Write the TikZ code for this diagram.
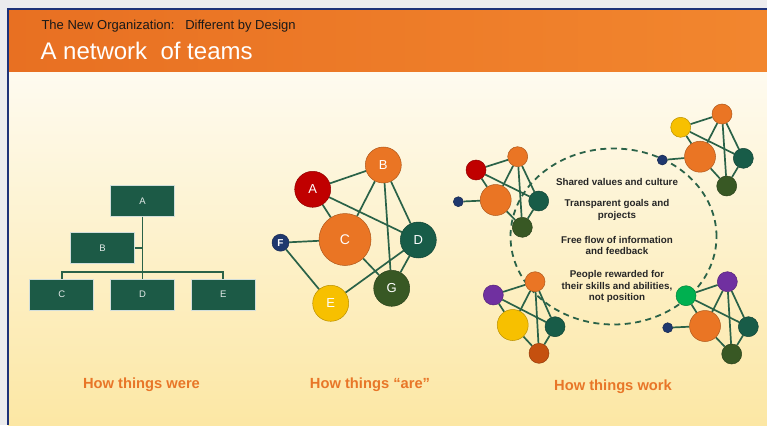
\documentclass[tikz,border=0pt]{standalone}
\usepackage{fontspec}
\setmainfont{Liberation Sans}
\usetikzlibrary{positioning}

\definecolor{framegray}{RGB}{236,236,238}
\definecolor{framenavy}{RGB}{30,50,120}
\definecolor{hdrleft}{RGB}{232,112,34}
\definecolor{hdrright}{RGB}{242,134,46}
\definecolor{bodytop}{RGB}{254,251,240}
\definecolor{bodybot}{RGB}{252,231,164}
\definecolor{boxgreen}{RGB}{28,90,70}
\definecolor{linkgreen}{RGB}{42,98,72}
\definecolor{teamorange}{RGB}{234,117,36}
\definecolor{teamred}{RGB}{192,0,0}
\definecolor{teamteal}{RGB}{24,92,72}
\definecolor{teamgreen}{RGB}{56,88,36}
\definecolor{teamyellow}{RGB}{247,192,0}
\definecolor{teamnavy}{RGB}{31,56,110}
\definecolor{teampurple}{RGB}{112,48,160}
\definecolor{teamlime}{RGB}{0,176,80}
\definecolor{teamrust}{RGB}{197,80,15}
\definecolor{captionorange}{RGB}{232,118,40}

\pgfdeclarelayer{back}
\pgfdeclarelayer{links}
\pgfsetlayers{back,links,main}

\tikzset{%
  % Specifications for style of nodes:
        orgbox/.style = {rectangle, draw=white!80!boxgreen, line width=0.8pt,
                         fill=boxgreen, minimum width=64pt, minimum height=31pt,
                         text=white!88!boxgreen, font=\fontsize{9.5}{10}\selectfont},
          team/.style = {circle, inner sep=0pt, fill=#1, draw=#1!75!black,
                         line width=0.5pt, text=white},
       bigteam/.style = {minimum size=36pt, font=\fontsize{13}{14}\selectfont},
      hubteam/.style = {minimum size=52pt, font=\fontsize{14}{15}\selectfont},
      tinyteam/.style = {minimum size=17pt, font=\bfseries\fontsize{10}{11}\selectfont},
      unitteam/.style = {minimum size=20pt},
    centerteam/.style = {minimum size=31pt},
       dotteam/.style = {minimum size=10pt},
          link/.style = {draw=linkgreen, line width=1.7pt},
       orgline/.style = {draw=linkgreen, line width=1.7pt},
      ringline/.style = {draw=linkgreen, line width=1.8pt, dash pattern=on 6pt off 4.5pt},
     valuetext/.style = {align=center, text=black!85,
                         font=\bfseries\fontsize{9.8}{11.8}\selectfont},
       caption/.style = {anchor=base, text=captionorange,
                         font=\bfseries\fontsize{14.7}{16}\selectfont},
}

\begin{document}
\begin{tikzpicture}[x=1pt, y=-1pt]
  \useasboundingbox (0,0) rectangle (767,425);

  % slide frame, header and body
  \begin{pgfonlayer}{back}
    \fill[framegray] (0,0) rectangle (767,425);
    \shade[top color=bodytop, bottom color=bodybot] (8,72) rectangle (767,425);
    \shade[left color=hdrleft, right color=hdrright] (8,9) rectangle (767,72);
    \draw[framenavy, line width=1.4pt] (8,425) -- (8,9) -- (767,9);
  \end{pgfonlayer}

  \node (subtitle) [anchor=base west, text=black!90, font=\fontsize{13}{14}\selectfont]
        at (38,29.5) {The New Organization:\ \ \ Different by Design};
  \node (title) [anchor=base west, text=white, font=\fontsize{24}{26}\selectfont]
        at (37,60) {A network\ \ of teams};

  % How things were: the org chart
  \node (orgA) [orgbox] at (142.5,200.8) {A};
  \node (orgD) [orgbox, below=62pt of orgA] {D};
  \node (orgC) [orgbox, left=16pt of orgD] {C};
  \node (orgE) [orgbox, right=16pt of orgD] {E};
  \node (orgB) [orgbox] at (102.5,248) {B};
  \coordinate (orgbar) at (142.5,271.7);

  \draw[orgline] (orgA) -- (orgbar) -- (orgD);
  \draw[orgline] (orgC.north) |- (orgbar) -| (orgE.north);
  \draw[orgline] (orgB.east) -- (orgB.east -| orgA.south);

  % How things "are": the network
  \node (netA) [team=teamred, bigteam]    at (312.7,189.3) {A};
  \node (netB) [team=teamorange, bigteam] at (383.3,165)   {B};
  \node (netC) [team=teamorange, hubteam] at (345,239.5)   {C};
  \node (netD) [team=teamteal, bigteam]   at (418.3,240)   {D};
  \node (netE) [team=teamyellow, bigteam] at (330.7,303.3) {E};
  \node (netF) [team=teamnavy, tinyteam]  at (280.5,242.7) {F};
  \node (netG) [team=teamgreen, bigteam]  at (391.7,288.3) {G};

  \begin{pgfonlayer}{links}
    \draw[link] (netA) -- (netB);
    \draw[link] (netA) -- (netC);
    \draw[link] (netA) -- (netD);
    \draw[link] (netB) -- (netC);
    \draw[link] (netB) -- (netG);
    \draw[link] (netB) -- (netD);
    \draw[link] (netF) -- (netC);
    \draw[link] (netF) -- (netE);
    \draw[link] (netE) -- (netD);
    \draw[link] (netC) -- (netG);
    \draw[link] (netD) -- (netG);
  \end{pgfonlayer}

  % How things work: teams round the shared ring
  \node (ring) [draw=none, minimum width=206pt, minimum height=176pt] at (613.5,236.5) {};
  \begin{pgfonlayer}{links}
    \draw[ringline] (ring.center) ellipse [x radius=103pt, y radius=88pt];
  \end{pgfonlayer}

  \node (valuesText)  [valuetext] at (617,181.5) {Shared values and culture};
  \node (goalsText)   [valuetext] at (617,210)   {Transparent goals and\\projects};
  \node (flowText)    [valuetext] at (617,245.5) {Free flow of information\\and feedback};
  \node (rewardText)  [valuetext] at (617,286.5) {People rewarded for\\their skills and abilities,\\not position};

  % top left team
  \node (tlA) [team=teamred, unitteam]      at (476,170)     {};
  \node (tlB) [team=teamorange, unitteam]   at (517.7,156.7) {};
  \node (tlC) [team=teamorange, centerteam] at (495.7,200)   {};
  \node (tlD) [team=teamteal, unitteam]     at (538.7,201)   {};
  \node (tlG) [team=teamgreen, unitteam]    at (522.3,227.3) {};
  \node (tlF) [team=teamnavy, dotteam]      at (458.3,201.7) {};

  % top right team
  \node (trA) [team=teamyellow, unitteam]   at (680.7,127.3) {};
  \node (trB) [team=teamorange, unitteam]   at (722,114)     {};
  \node (trC) [team=teamorange, centerteam] at (700,156.7)   {};
  \node (trD) [team=teamteal, unitteam]     at (743.3,158.3) {};
  \node (trG) [team=teamgreen, unitteam]    at (726.7,186)   {};
  \node (trF) [team=teamnavy, dotteam]      at (662.3,160)   {};

  % bottom left team
  \node (blA) [team=teampurple, unitteam]   at (493.3,295)   {};
  \node (blB) [team=teamorange, unitteam]   at (535,281.7)   {};
  \node (blC) [team=teamyellow, centerteam] at (512.7,325)   {};
  \node (blD) [team=teamteal, unitteam]     at (555,326.7)   {};
  \node (blG) [team=teamrust, unitteam]     at (539,353.3)   {};

  % bottom right team
  \node (brA) [team=teamlime, unitteam]     at (686,295.7)   {};
  \node (brB) [team=teampurple, unitteam]   at (727.3,281.7) {};
  \node (brC) [team=teamorange, centerteam] at (705,326)     {};
  \node (brD) [team=teamteal, unitteam]     at (748.3,326.7) {};
  \node (brG) [team=teamgreen, unitteam]    at (731.7,354)   {};
  \node (brF) [team=teamnavy, dotteam]      at (667.7,327.7) {};

  \begin{pgfonlayer}{links}
    \draw[link] (tlA) -- (tlB);  \draw[link] (tlA) -- (tlC);  \draw[link] (tlA) -- (tlD);
    \draw[link] (tlB) -- (tlC);  \draw[link] (tlB) -- (tlG);  \draw[link] (tlB) -- (tlD);
    \draw[link] (tlF) -- (tlC);  \draw[link] (tlC) -- (tlG);  \draw[link] (tlD) -- (tlG);

    \draw[link] (trA) -- (trB);  \draw[link] (trA) -- (trC);  \draw[link] (trA) -- (trD);
    \draw[link] (trB) -- (trC);  \draw[link] (trB) -- (trG);  \draw[link] (trB) -- (trD);
    \draw[link] (trF) -- (trC);  \draw[link] (trC) -- (trG);  \draw[link] (trD) -- (trG);

    \draw[link] (blA) -- (blB);  \draw[link] (blA) -- (blC);  \draw[link] (blA) -- (blD);
    \draw[link] (blB) -- (blC);  \draw[link] (blB) -- (blG);  \draw[link] (blB) -- (blD);
    \draw[link] (blC) -- (blG);  \draw[link] (blD) -- (blG);

    \draw[link] (brA) -- (brB);  \draw[link] (brA) -- (brC);  \draw[link] (brA) -- (brD);
    \draw[link] (brB) -- (brC);  \draw[link] (brB) -- (brG);  \draw[link] (brB) -- (brD);
    \draw[link] (brF) -- (brC);  \draw[link] (brC) -- (brG);  \draw[link] (brD) -- (brG);
  \end{pgfonlayer}

  % captions
  \node (wereCaption) [caption] at (141.5,388) {How things were};
  \node (areCaption)  [caption] at (370,388)   {How things “are”};
  \node (workCaption) [caption] at (613,390)   {How things work};
\end{tikzpicture}
\end{document}
